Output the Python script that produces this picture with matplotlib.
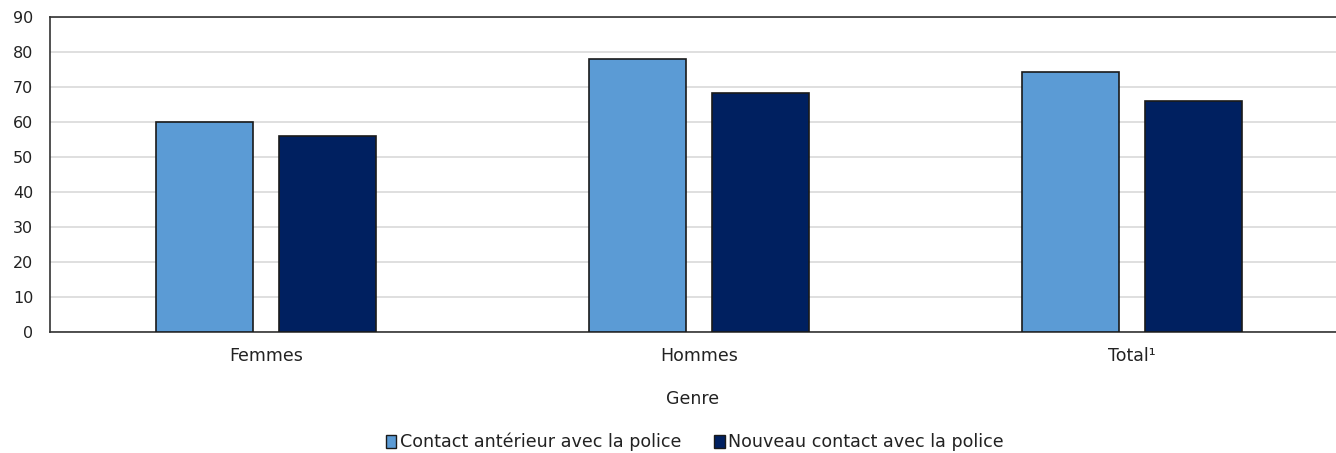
import numpy as np
import matplotlib.pyplot as plt
from matplotlib.patches import Patch

# Données
categories = ["Femmes", "Hommes", "Total¹"]
contact_anterieur = [60.1, 78.0, 74.4]
nouveau_contact = [56.0, 68.4, 66.1]
series_labels = ["Contact antérieur avec la police", "Nouveau contact avec la police"]
couleurs = ["#5B9BD5", "#002060"]

fig = plt.figure(figsize=(13.36, 4.53), dpi=100)
ax = fig.add_axes([0.0374, 0.267, 0.9626, 0.6955])

x = np.arange(len(categories))
larg = 0.224
ax.bar(x - 0.143, contact_anterieur, larg, color=couleurs[0], edgecolor="#1a1a1a", linewidth=1.2, zorder=3)
ax.bar(x + 0.142, nouveau_contact, larg, color=couleurs[1], edgecolor="#1a1a1a", linewidth=1.2, zorder=3)

ax.set_ylim(0, 90)
ax.set_yticks(range(0, 91, 10))
ax.set_xlim(-0.5, 2.471)
ax.set_xticks(x)
ax.set_xticklabels(categories)
ax.tick_params(axis="both", length=0, colors="#222222")
ax.tick_params(axis="x", pad=11, labelsize=12.5)
ax.tick_params(axis="y", pad=12, labelsize=11.5)

# Tracejado
ax.grid(axis="y", color="#d9d9d9", linewidth=1.2, zorder=0)
for s in ["left", "bottom", "top"]:
    ax.spines[s].set_color("#333333")
    ax.spines[s].set_linewidth(1.2)
ax.spines["right"].set_visible(False)

ax.set_xlabel("Genre", fontsize=12.5, color="#222222", labelpad=18)

handles = [Patch(facecolor=c, edgecolor="#1a1a1a", linewidth=1) for c in couleurs]
fig.legend(handles, series_labels, loc="center", bbox_to_anchor=(0.52, 0.024), ncol=2,
           frameon=False, fontsize=12.6, handlelength=0.6, handleheight=0.8,
           handletextpad=0.2, columnspacing=1.9, labelcolor="#222222")

fig.savefig("out.png", dpi=100)
